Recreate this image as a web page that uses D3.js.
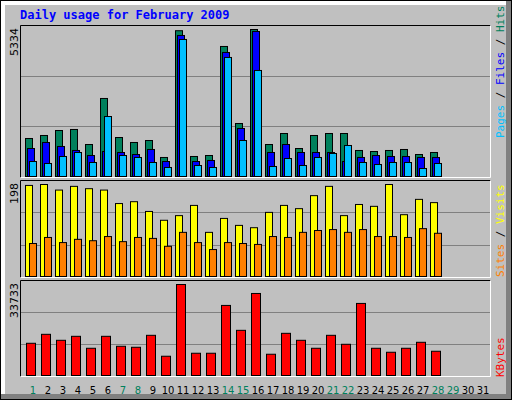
<!DOCTYPE html>
<html><head><meta charset="utf-8">
<script src="https://cdnjs.cloudflare.com/ajax/libs/d3/7.8.5/d3.min.js"></script>
<style>body{margin:0;background:#fff}</style>
</head><body>
<div id="chart"></div>
<script>
// values, day 1..28
var days = d3.range(1, 32);
var weekend = [1, 7, 8, 14, 15, 21, 22, 28, 29];
var hits = [1379,1488,1669,1706,1161,2831,1415,1234,1306,690,5290,726,762,4718,1923,5334,1161,1560,1016,1488,1560,1560,944,907,944,980,798,871];
var files = [1016,1234,1089,944,762,907,871,798,980,544,5117,544,581,4500,1742,5262,871,1161,871,871,871,544,690,762,726,726,690,690];
var pages = [544,472,726,871,508,2177,762,690,508,327,4972,399,327,4319,1306,3847,363,653,399,690,835,1125,508,435,508,508,290,472];
var visits = [196,198,186,194,189,186,157,161,140,121,131,153,95,125,110,105,138,153,146,174,194,131,155,151,198,133,166,159];
var sites = [71,84,73,80,77,86,75,84,82,65,95,73,58,73,71,69,86,84,95,99,101,95,101,86,86,84,103,93];
var kbytes = [11941,15265,13049,14526,10094,14526,10833,10464,14895,7140,33733,8248,8248,25975,16742,30407,7879,15634,13049,10094,14895,11572,26714,10094,8617,10094,12310,8987];

var W = 512, H = 400;
var svg = d3.select('#chart').append('svg').attr('width', W).attr('height', H);

// frame
svg.append('rect').attr('x', 0).attr('y', 0).attr('width', W).attr('height', H).attr('fill', '#000');
svg.append('rect').attr('x', 1).attr('y', 1).attr('width', W - 2).attr('height', H - 2).attr('fill', '#808080');
svg.append('rect').attr('x', 1).attr('y', 1).attr('width', W - 7).attr('height', H - 7).attr('fill', '#fff');
svg.append('rect').attr('x', 5).attr('y', 5).attr('width', W - 11).attr('height', H - 11).attr('fill', '#c0c0c0');

svg.append('text').attr('x', 20).attr('y', 19)
	.attr('font-family', 'DejaVu Sans Mono').attr('font-weight', 'bold').attr('font-size', 12)
	.attr('fill', '#0000ff').text('Daily usage for February 2009');

var x = d3.scaleLinear().domain([1, 2]).range([25, 40]); // left edge of a day's group

function panel(top, bottom, max, maxLabel) {
	var y = d3.scaleLinear().domain([0, max]).range([bottom - 0.5, top + 4.5]);
	var g = svg.append('g');
	[1, 2].forEach(function (i) {
		var gy = Math.round(bottom - (bottom - top) * i / 3) + 0.5;
		g.append('line').attr('x1', 21).attr('x2', 490).attr('y1', gy).attr('y2', gy)
			.attr('stroke', '#808080').attr('stroke-width', 1);
	});
	g.append('path').attr('d', 'M20.5,' + (bottom + 0.5) + 'V' + (top + 0.5) + 'H490.5')
		.attr('stroke', '#000').attr('fill', 'none');
	g.append('path').attr('d', 'M20.5,' + (bottom + 0.5) + 'H490.5V' + (top + 0.5))
		.attr('stroke', '#fff').attr('fill', 'none');
	svg.append('text').attr('transform', 'translate(18,' + (top + 3) + ') rotate(-90)')
		.attr('text-anchor', 'end').attr('font-family', 'DejaVu Sans').attr('font-size', 11)
		.attr('fill', '#000').text(maxLabel);
	return { g: g, y: y };
}

function bars(p, data, off, w, color) {
	p.g.selectAll(null).data(data).enter().append('rect')
		.attr('x', function (d, i) { return x(i + 1) + off + 0.5; })
		.attr('y', function (d) { return p.y(d); })
		.attr('width', w)
		.attr('height', function (d) { return p.y(0) - p.y(d); })
		.attr('fill', color).attr('stroke', '#000').attr('stroke-width', 1);
}

var p1 = panel(25, 177, 5334, '5334');
bars(p1, hits, 0, 7, '#00805c');
bars(p1, files, 2, 7, '#0000ff');
bars(p1, pages, 4, 7, '#00c0ff');

var p2 = panel(180, 277, 198, '198');
bars(p2, visits, 0, 7, '#ffff00');
bars(p2, sites, 4, 7, '#ff8000');

var p3 = panel(280, 376, 33733, '33733');
bars(p3, kbytes, 1, 9, '#ff0000');

// right side legends
function legend(cy, parts) {
	var t = svg.append('text').attr('transform', 'translate(504,' + cy + ') rotate(-90)')
		.attr('font-family', 'DejaVu Sans Mono').attr('font-size', 11);
	parts.forEach(function (p) { t.append('tspan').attr('fill', p[1]).text(p[0]); });
}
legend(138, [['Pages', '#00c0ff'], [' / ', '#000'], ['Files', '#0000ff'], [' / ', '#000'], ['Hits', '#00805c']]);
legend(277, [['Sites', '#ff8000'], [' / ', '#000'], ['Visits', '#ffff00']]);
legend(377, [['KBytes', '#ff0000']]);

// day labels
svg.selectAll('.day').data(days).enter().append('text')
	.attr('x', function (d) { return x(d) + 8; }).attr('y', 394)
	.attr('text-anchor', 'middle').attr('font-family', 'DejaVu Sans').attr('font-size', 10)
	.attr('fill', function (d) { return weekend.indexOf(d) >= 0 ? '#00805c' : '#000'; })
	.text(function (d) { return d; });
</script>
</body></html>
